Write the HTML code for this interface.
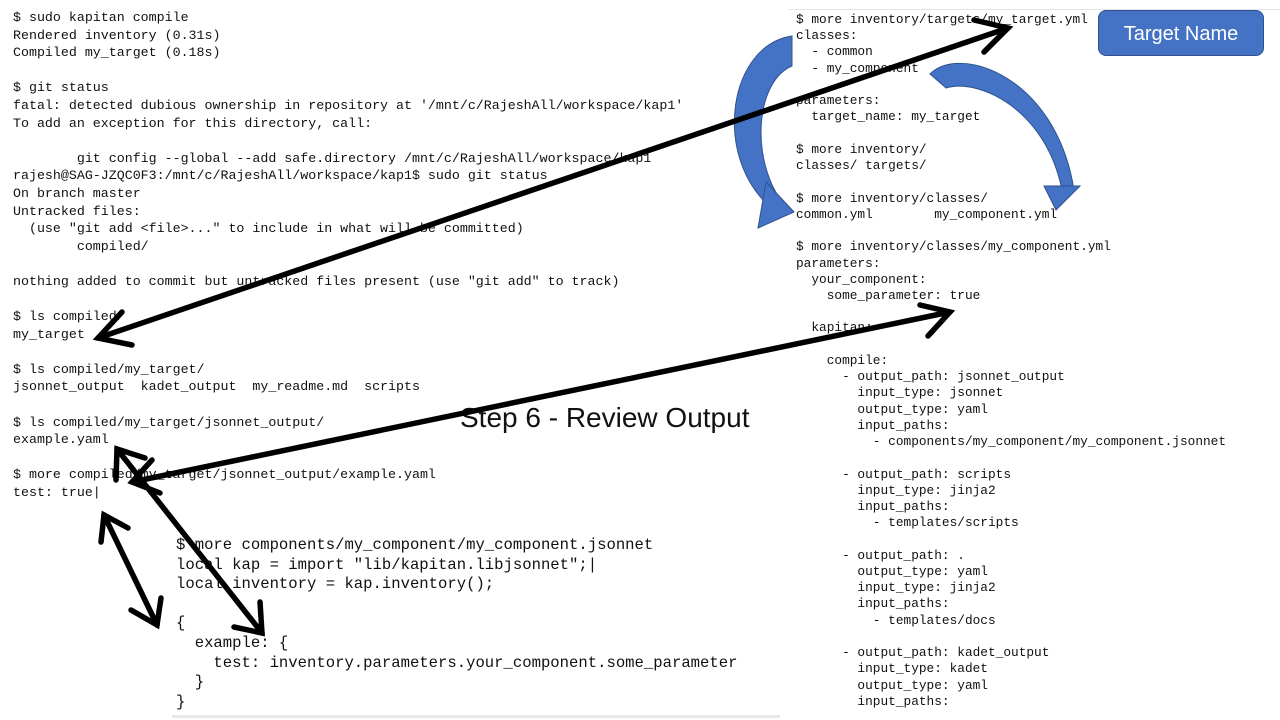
<!DOCTYPE html>
<html><head><meta charset="utf-8"><style>
body{margin:0;width:1280px;height:720px;background:#fff;position:relative;overflow:hidden;font-family:"Liberation Mono",monospace;color:#111}
pre{margin:0;position:absolute;font-family:"Liberation Mono",monospace}
#l{left:13px;top:9px;font-size:13.3px;line-height:17.6px}
#r{left:796px;top:12px;font-size:12.8px;line-height:16.23px}
#b{left:176px;top:536px;font-size:15.6px;line-height:19.6px}
#t{position:absolute;left:460px;top:402px;font-family:"Liberation Sans",sans-serif;font-size:28px;color:#111}
#box{position:absolute;left:1098px;top:10px;width:166px;height:46px;background:#4472C4;border:1px solid #2f528f;border-radius:8px;color:#fff;font-family:"Liberation Sans",sans-serif;font-size:20px;line-height:46px;text-align:center;box-sizing:border-box}
</style></head><body>
<div style="position:absolute;left:788px;top:9px;width:492px;height:1px;background:#e4e4e4"></div>
<div style="position:absolute;left:172px;top:715px;width:608px;height:3px;background:#e8e8e8"></div>
<pre id="l">$ sudo kapitan compile
Rendered inventory (0.31s)
Compiled my_target (0.18s)

$ git status
fatal: detected dubious ownership in repository at '/mnt/c/RajeshAll/workspace/kap1'
To add an exception for this directory, call:

        git config --global --add safe.directory /mnt/c/RajeshAll/workspace/kap1
rajesh@SAG-JZQC0F3:/mnt/c/RajeshAll/workspace/kap1$ sudo git status
On branch master
Untracked files:
  (use "git add &lt;file&gt;..." to include in what will be committed)
        compiled/

nothing added to commit but untracked files present (use "git add" to track)

$ ls compiled/
my_target

$ ls compiled/my_target/
jsonnet_output  kadet_output  my_readme.md  scripts

$ ls compiled/my_target/jsonnet_output/
example.yaml

$ more compiled/my_target/jsonnet_output/example.yaml
test: true|</pre>
<pre id="r">$ more inventory/targets/my_target.yml
classes:
  - common
  - my_component

parameters:
  target_name: my_target

$ more inventory/
classes/ targets/

$ more inventory/classes/
common.yml        my_component.yml

$ more inventory/classes/my_component.yml
parameters:
  your_component:
    some_parameter: true

  kapitan:

    compile:
      - output_path: jsonnet_output
        input_type: jsonnet
        output_type: yaml
        input_paths:
          - components/my_component/my_component.jsonnet

      - output_path: scripts
        input_type: jinja2
        input_paths:
          - templates/scripts

      - output_path: .
        output_type: yaml
        input_type: jinja2
        input_paths:
          - templates/docs

      - output_path: kadet_output
        input_type: kadet
        output_type: yaml
        input_paths:</pre>
<pre id="b">$ more components/my_component/my_component.jsonnet
local kap = import "lib/kapitan.libjsonnet";|
local inventory = kap.inventory();

{
  example: {
    test: inventory.parameters.your_component.some_parameter
  }
}</pre>
<div id="t">Step 6 - Review Output</div>
<div id="box">Target Name</div>
<svg width="1280" height="720" style="position:absolute;left:0;top:0">
<g fill="#4472C4" stroke="#2f528f" stroke-width="1">
<path d="M792,36 C730,45 712,152 768,205 L778,196 C750,150 758,80 792,66 Z"/>
<polygon points="766,182 794,212 758,228"/>
<path d="M930,74 C960,44 1056,76 1074,190 L1062,190 C1046,110 980,78 946,88 Z"/>
<polygon points="1044,186 1080,186 1056,210"/>
</g>
<g stroke="#000" stroke-width="5.5" fill="none" stroke-linecap="round" stroke-linejoin="miter">
<line x1="98" y1="338" x2="1008" y2="28"/>
<polyline points="122,312 98,338 132,345"/>
<polyline points="974,20 1008,28 984,52"/>
<line x1="132" y1="482" x2="950" y2="312"/>
<polyline points="152,460 132,482 160,493"/>
<polyline points="920,305 950,312 928,336"/>
<line x1="117" y1="449" x2="262" y2="633"/>
<polyline points="116,480 117,449 145,458"/>
<polyline points="234,627 262,633 260,602"/>
<line x1="104" y1="515" x2="157" y2="625"/>
<polyline points="101,542 104,515 128,528"/>
<polyline points="131,610 157,625 161,598"/>
</g>
</svg>
</body></html>
